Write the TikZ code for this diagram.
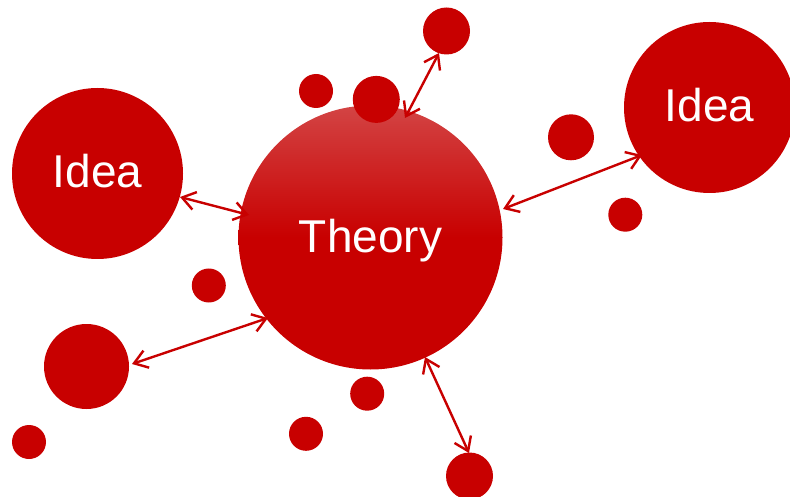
\documentclass[tikz,border=0pt]{standalone}
\usepackage{fontspec}
\setmainfont{Liberation Sans}
\usetikzlibrary{arrows.meta,calc}
\definecolor{dred}{RGB}{200,0,0}
\definecolor{lred}{RGB}{211,68,68}
\begin{document}
\begin{tikzpicture}[x=1pt,y=-1pt,
  blob/.style={circle, fill=dred, draw=none, inner sep=0pt, minimum size=#1},
  bigtext/.style={text=white, font=\fontsize{46}{55}\selectfont},
  link/.style={draw=dred, line width=2.4pt,
    {Straight Barb[length=13pt,width=18pt]}-{Straight Barb[length=13pt,width=18pt]}}]
\useasboundingbox (0,0) rectangle (790,497);
\clip (0,0) rectangle (790,497);

% main theory circle with gradient
\node[circle, inner sep=0pt, minimum size=264pt, top color=lred, bottom color=dred,
      middle color=dred] (theory) at (370.5,237.5) {};
\node[bigtext, anchor=base] (theorylbl) at ($(theory.center)+(0,14.5)$) {Theory};

% idea circles
\node[blob=171pt] (ideaL) at (97.5,173.5) {};
\node[bigtext, anchor=base] (ideaLlbl) at ($(ideaL.center)+(0,14.5)$) {Idea};
\node[blob=171pt] (ideaR) at (709.5,107.5) {};
\node[bigtext, anchor=base] (ideaRlbl) at ($(ideaR.center)+(0,14.5)$) {Idea};

% small circles
\node[blob=34pt] (s1) at (316,91) {};
\node[blob=47pt] (s2) at (376.3,99.4) {};
\node[blob=47pt] (t1) at (446.5,31) {};
\node[blob=46pt] (s3) at (571,137.3) {};
\node[blob=34pt] (s4) at (625.3,214.7) {};
\node[blob=34pt] (s5) at (208.8,285.5) {};
\node[blob=85pt] (c86) at (86.5,366.5) {};
\node[blob=34pt] (s6) at (29,442) {};
\node[blob=34pt] (s7) at (367.2,393.7) {};
\node[blob=34pt] (s8) at (306,433.8) {};
\node[blob=47pt] (b1) at (469.5,476) {};

% connectors
\draw[link] ($(theory.center)+(34.5,-119.5)$) -- ($(t1.center)+(-7.5,22)$);
\draw[link] ($(theory.center)+(54.5,119.5)$) -- ($(b1.center)+(-0.5,-23)$);
\draw[link] ($(ideaL.center)+(82.5,23.5)$) -- ($(theory.center)+(-121.5,-22.5)$);
\draw[link] ($(theory.center)+(132.5,-28.5)$) -- ($(ideaR.center)+(-67.5,47.5)$);
\draw[link] ($(c86.center)+(45.5,-2.5)$) -- ($(theory.center)+(-102.5,80.5)$);
\end{tikzpicture}
\end{document}
